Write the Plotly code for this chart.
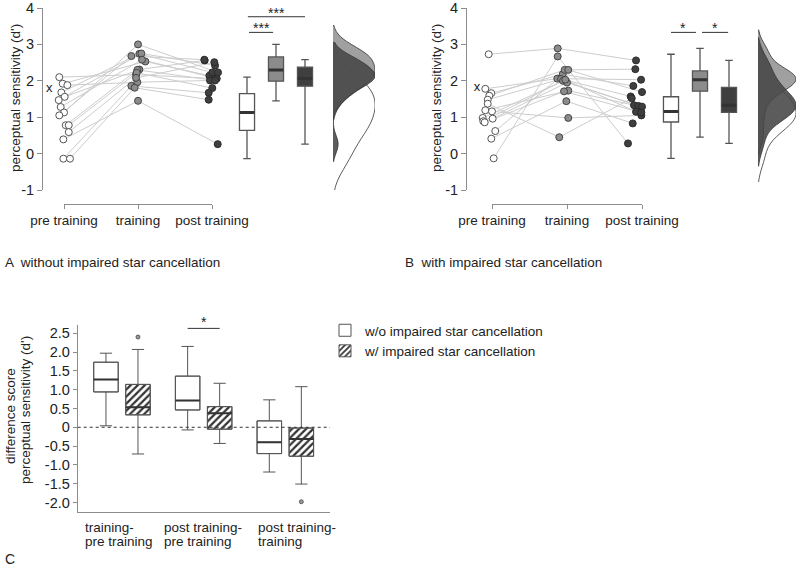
import numpy as np
import plotly.graph_objects as go

W, H = 796, 567
FONT = "Arial, Liberation Sans, sans-serif"
TXT = "#222222"
AXC = "#8c8c8c"

# ---------------- data ----------------
conditions = ["pre training", "training", "post training"]
y_ticks = [-1, 0, 1, 2, 3, 4]
y_ticktext = ["-1", "0", "1", "2", "3", "4"]

# Panel A: without impaired star cancellation (one entry per participant)
a_pre = [2.10, 1.92, 1.88, 1.68, 1.56, 1.47, 1.28, 1.13, 1.05, 0.78, 0.78, 0.59, 0.39, -0.14, -0.14]
a_train = [2.17, 2.53, 1.96, 2.74, 2.31, 2.75, 2.58, 3.00, 2.68, 2.30, 2.22, 2.08, 1.45, 1.86, 1.81]
a_post = [2.06, 2.14, 2.01, 2.23, 2.56, 2.42, 2.06, 2.23, 2.58, 2.01, 1.80, 2.51, 0.26, 1.67, 1.48]
a_x_mark = 1.79

# Panel B: with impaired star cancellation
b_pre = [2.73, 1.78, 1.66, 1.59, 1.48, 1.37, 1.19, 1.16, 0.98, 0.96, 0.89, 0.86, 0.62, 0.41, -0.13]
b_train = [2.89, 2.06, 2.18, 2.30, 2.05, 0.45, 1.73, 0.98, 2.00, 1.95, 2.03, 1.71, 2.30, 1.44, 2.67]
b_post = [2.56, 2.03, 1.86, 2.32, 1.57, 1.52, 1.33, 1.05, 1.31, 1.29, 1.15, 1.13, 1.69, 0.83, 0.28]
b_x_mark = 1.82

# horizontal jitter of the dots (category units)
a_jit_pre = [-0.064, -0.018, 0.045, -0.036, 0.009, -0.072, -0.045, 0.0, -0.064, 0.023, 0.064, 0.064, -0.009, -0.009, 0.081]
a_jit_train = [-0.027, 0.099, -0.009, 0.018, 0.018, 0.045, 0.054, 0.0, -0.09, -0.009, -0.018, -0.027, 0.0, -0.09, -0.045]
a_jit_post = [0.023, -0.036, -0.027, 0.004, -0.099, 0.041, 0.064, 0.081, -0.104, 0.041, 0.004, 0.031, 0.077, -0.045, -0.045]
b_jit_pre = [-0.044, -0.089, -0.009, -0.036, -0.057, -0.057, -0.089, 0.0, -0.124, 0.009, -0.116, -0.097, 0.044, -0.009, 0.023]
b_jit_train = [-0.124, -0.129, -0.057, -0.031, -0.08, -0.103, 0.017, 0.017, -0.053, 0.0, -0.023, -0.04, 0.017, -0.009, -0.124]
b_jit_post = [-0.08, -0.013, -0.116, -0.089, -0.151, -0.137, -0.107, -0.009, -0.049, 0.0, -0.08, -0.009, 0.0, -0.124, -0.187]

# Panel C: difference scores (box statistics)
c_labels = [("training-", "pre training"), ("post training-", "pre training"), ("post training-", "training")]
c_ticks = [2.5, 2.0, 1.5, 1.0, 0.5, 0, -0.5, -1.0, -1.5, -2.0]
c_ticktext = ["2.5", "2.0", "1.5", "1.0", "0.5", "0", "-0.5", "-1.0", "-1.5", "-2.0"]
c_wo = dict(q1=[0.94, 0.46, -0.70], median=[1.27, 0.71, -0.40], q3=[1.73, 1.36, 0.17],
            lowerfence=[0.04, -0.07, -1.19], upperfence=[1.97, 2.15, 0.73])
c_w = dict(q1=[0.33, -0.05, -0.77], median=[0.53, 0.37, -0.31], q3=[1.14, 0.55, -0.02],
           lowerfence=[-0.71, -0.43, -1.51], upperfence=[2.07, 1.17, 1.08])
c_w_outlier_group = [1, 3]
c_w_outlier_value = [2.40, -1.98]
legend_names = ["w/o impaired star cancellation", "w/ impaired star cancellation"]

# styles
fill_cols = ["#ffffff", "#8c8c8c", "#3f3f3f"]
edge_cols = ["#555555", "#444444", "#2a2a2a"]
violin_fill = ["rgba(255,255,255,0.9)", "rgba(150,150,150,0.9)", "rgba(70,70,70,0.88)"]


def fx(p):
    return p / W


def fy(p):
    return 1 - p / H


fig = go.Figure()


def panel(pre, train, post, jp, jt, jpo, xmark, xa, xb, xbox, xv, ya, grp):
    series = [pre, train, post]
    jits = [jp, jt, jpo]
    lx, ly = [], []
    for i in range(len(pre)):
        for k in range(3):
            lx.append(k + 1 + jits[k][i])
            ly.append(series[k][i])
        lx.append(None)
        ly.append(None)
    fig.add_trace(go.Scatter(x=lx, y=ly, mode="lines", line=dict(color="#cdcdcd", width=1),
                             xaxis=xa, yaxis=ya, hoverinfo="skip", showlegend=False))
    for k in range(3):
        fig.add_trace(go.Scatter(
            x=[k + 1 + j for j in jits[k]], y=series[k], mode="markers",
            marker=dict(size=7, color=fill_cols[k], line=dict(color=edge_cols[k], width=1)),
            xaxis=xa, yaxis=ya, hoverinfo="skip", showlegend=False))
    fig.add_trace(go.Scatter(x=[0.80], y=[xmark], mode="text", text=["x"],
                             textfont=dict(size=13, color=TXT, family=FONT),
                             xaxis=xa, yaxis=ya, hoverinfo="skip", showlegend=False))
    # invisible trace so that the bracket axis is drawn
    fig.add_trace(go.Scatter(x=[1, 3], y=[0, 0], mode="markers", marker=dict(opacity=0),
                             xaxis=xb, yaxis=ya, hoverinfo="skip", showlegend=False))
    for k in range(3):
        d = np.array(series[k])
        fig.add_trace(go.Box(x=np.full(len(d), k + 1), y=d, width=0.52, whiskerwidth=0.5,
                             fillcolor=fill_cols[k], line=dict(color="#555555", width=1.3),
                             boxpoints=False, xaxis=xbox, yaxis=ya, hoverinfo="skip", showlegend=False))
        med = float(np.median(d))
        fig.add_trace(go.Scatter(x=[k + 1 - 0.25, k + 1 + 0.25], y=[med, med], mode="lines",
                                 line=dict(color="#333333", width=3), xaxis=xbox, yaxis=ya,
                                 hoverinfo="skip", showlegend=False))
    for k in range(3):
        fig.add_trace(go.Violin(x=np.zeros(len(series[k])), y=series[k], side="positive", width=2,
                                points=False, box_visible=False, meanline_visible=False,
                                fillcolor=violin_fill[k], line=dict(color="#333333", width=0.8),
                                scalegroup=grp, scalemode="count", xaxis=xv, yaxis=ya,
                                hoverinfo="skip", showlegend=False))


panel(a_pre, a_train, a_post, a_jit_pre, a_jit_train, a_jit_post, a_x_mark, "x", "x2", "x3", "x4", "y", "A")
panel(b_pre, b_train, b_post, b_jit_pre, b_jit_train, b_jit_post, b_x_mark, "x5", "x6", "x7", "x8", "y2", "B")

# ---------------- panel C ----------------
off = 0.196
bw = 0.30
pos_wo = [g - off for g in (1, 2, 3)]
pos_w = [g + off for g in (1, 2, 3)]
fig.add_trace(go.Bar(x=pos_wo, y=np.array(c_wo["q3"]) - np.array(c_wo["q1"]), base=c_wo["q1"], width=bw,
                     marker=dict(color="white", line=dict(color="#555555", width=1)),
                     name=legend_names[0], xaxis="x9", yaxis="y3", hoverinfo="skip"))
fig.add_trace(go.Bar(x=pos_w, y=np.array(c_w["q3"]) - np.array(c_w["q1"]), base=c_w["q1"], width=bw,
                     marker=dict(color="white", line=dict(color="#555555", width=1),
                                 pattern=dict(shape="/", fgcolor="#333333", bgcolor="white", size=5, solidity=0.45)),
                     name=legend_names[1], xaxis="x9", yaxis="y3", hoverinfo="skip"))
for pos, st in ((pos_wo, c_wo), (pos_w, c_w)):
    fig.add_trace(go.Box(x=pos, q1=st["q1"], median=st["median"], q3=st["q3"],
                         lowerfence=st["lowerfence"], upperfence=st["upperfence"],
                         width=bw, whiskerwidth=0.5, fillcolor="rgba(0,0,0,0)",
                         line=dict(color="#555555", width=1), boxpoints=False,
                         xaxis="x9", yaxis="y3", hoverinfo="skip", showlegend=False))
    mx, my = [], []
    for p, m in zip(pos, st["median"]):
        mx += [p - bw / 2, p + bw / 2, None]
        my += [m, m, None]
    fig.add_trace(go.Scatter(x=mx, y=my, mode="lines", line=dict(color="#333333", width=2),
                             xaxis="x9", yaxis="y3", hoverinfo="skip", showlegend=False))
fig.add_trace(go.Scatter(x=[g + off for g in c_w_outlier_group], y=c_w_outlier_value, mode="markers",
                         marker=dict(size=4, color="#9a9a9a", line=dict(color="#444444", width=0.8)),
                         xaxis="x9", yaxis="y3", hoverinfo="skip", showlegend=False))

# ---------------- layout ----------------
tickfont = dict(size=14.5, color=TXT, family=FONT)
lab_font = dict(size=13.5, color=TXT, family=FONT)


def yax(x_anchor):
    return dict(domain=[fy(190), fy(8)], range=[-1, 4], anchor=x_anchor, showline=True, linecolor=AXC,
                linewidth=1, ticks="outside", ticklen=5, tickcolor=AXC, tickvals=y_ticks, ticktext=y_ticktext,
                tickfont=tickfont, showgrid=False, zeroline=False, automargin=False, ticklabeloverflow="allow")


def hidden(dom, rng, anchor):
    return dict(domain=[fx(dom[0]), fx(dom[1])], range=rng, anchor=anchor, visible=False,
                showgrid=False, zeroline=False, automargin=False)


def bracket(dom):
    return dict(domain=[fx(dom[0]), fx(dom[1])], range=[1, 3], anchor="free", position=fy(204),
                showline=True, linecolor=AXC, linewidth=1, ticks="outside", ticklen=4, tickcolor=AXC,
                tickvals=[1, 2, 3], ticktext=conditions, tickfont=lab_font, showgrid=False, zeroline=False,
                automargin=False)


layout = dict(
    template="none",
    width=W, height=H, margin=dict(l=0, r=0, t=0, b=0, pad=0), autosize=False,
    plot_bgcolor="rgba(0,0,0,0)", paper_bgcolor="white",
    font=dict(family=FONT, color=TXT),
    boxmode="overlay", violinmode="overlay", barmode="overlay",
    yaxis=yax("x"),
    xaxis=hidden((43, 228), [0.716, 3.216], "y"),
    xaxis2=bracket((64, 212)),
    xaxis3=hidden((232.5, 319.5), [0.5, 3.5], "y"),
    xaxis4=hidden((333, 375), [0, 1], "y"),
    yaxis2=yax("x5"),
    xaxis5=hidden((467, 655), [0.667, 3.173], "y2"),
    xaxis6=bracket((492, 642)),
    xaxis7=hidden((656.5, 743.5), [0.5, 3.5], "y2"),
    xaxis8=hidden((758, 796), [0, 1], "y2"),
    yaxis3=dict(domain=[fy(511.7), fy(325)], range=[-2.245, 2.72], anchor="x9", showline=True, linecolor=AXC,
                linewidth=1, ticks="outside", ticklen=4, tickcolor=AXC, tickvals=c_ticks, ticktext=c_ticktext,
                tickfont=tickfont, showgrid=False, zeroline=False, automargin=False),
    xaxis9=dict(domain=[fx(77.7), fx(330)], range=[0.458, 3.547], anchor="y3", showline=True, linecolor=AXC,
                linewidth=1, ticks="", showticklabels=False, showgrid=False, zeroline=False, automargin=False),
    legend=dict(x=fx(325), y=fy(315), xanchor="left", yanchor="top", font=dict(size=13.5, color=TXT, family=FONT),
                bgcolor="rgba(0,0,0,0)", tracegroupgap=0, itemwidth=30),
    showlegend=True,
)
fig.update_layout(**layout)

shapes = []
annots = []


def sig(xref, yref, x0, x1, y, text, shift):
    shapes.append(dict(type="line", xref=xref, yref=yref, x0=x0, x1=x1, y0=y, y1=y,
                       line=dict(color="#333333", width=1)))
    annots.append(dict(xref=xref, yref=yref, x=(x0 + x1) / 2, y=y, text=text, showarrow=False,
                       yanchor="bottom", yshift=shift, font=dict(size=14, color=TXT, family=FONT)))


sig("x3", "y", 1.07, 1.9, 3.33, "***", -6)
sig("x3", "y", 1.03, 3.0, 3.76, "***", -6)
sig("x7", "y2", 1.0, 1.86, 3.33, "*", -6)
sig("x7", "y2", 2.07, 2.97, 3.33, "*", -6)
sig("x9", "y3", 2 - off, 2 + off, 2.63, "*", -4)

shapes.append(dict(type="line", xref="x9 domain", yref="y3", x0=0, x1=1, y0=0, y1=0,
                   line=dict(color="#333333", width=1, dash="dot")))

# y axis titles
annots.append(dict(xref="paper", yref="paper", x=fx(15), y=fy(98), text="perceptual sensitivity (d')",
                   textangle=-90, showarrow=False, font=lab_font, xanchor="center", yanchor="middle"))
annots.append(dict(xref="paper", yref="paper", x=fx(436), y=fy(98), text="perceptual sensitivity (d')",
                   textangle=-90, showarrow=False, font=lab_font, xanchor="center", yanchor="middle"))
annots.append(dict(xref="paper", yref="paper", x=fx(10), y=fy(416), text="difference score",
                   textangle=-90, showarrow=False, font=lab_font, xanchor="center", yanchor="middle"))
annots.append(dict(xref="paper", yref="paper", x=fx(25), y=fy(410), text="perceptual sensitivity (d')",
                   textangle=-90, showarrow=False, font=lab_font, xanchor="center", yanchor="middle"))

# panel C category labels (two left-aligned lines each)
c_label_left = [0.523, 1.486, 2.641]
for xl, (l1, l2) in zip(c_label_left, c_labels):
    annots.append(dict(xref="x9", yref="paper", x=xl, y=fy(527), text=l1, showarrow=False,
                       xanchor="left", yanchor="middle", font=lab_font))
    annots.append(dict(xref="x9", yref="paper", x=xl, y=fy(541.5), text=l2, showarrow=False,
                       xanchor="left", yanchor="middle", font=lab_font))

# panel labels
annots.append(dict(xref="paper", yref="paper", x=fx(3), y=fy(262), text="A  without impaired star cancellation",
                   showarrow=False, xanchor="left", yanchor="middle", font=lab_font))
annots.append(dict(xref="paper", yref="paper", x=fx(403), y=fy(262), text="B  with impaired star cancellation",
                   showarrow=False, xanchor="left", yanchor="middle", font=lab_font))
annots.append(dict(xref="paper", yref="paper", x=fx(3), y=fy(559), text="C",
                   showarrow=False, xanchor="left", yanchor="middle", font=dict(size=14, color=TXT, family=FONT)))

fig.update_layout(shapes=shapes, annotations=annots)
fig.write_html("out.html", config={"displayModeBar": False},
               post_script="document.body.style.margin='0px';document.body.style.overflow='hidden';")
